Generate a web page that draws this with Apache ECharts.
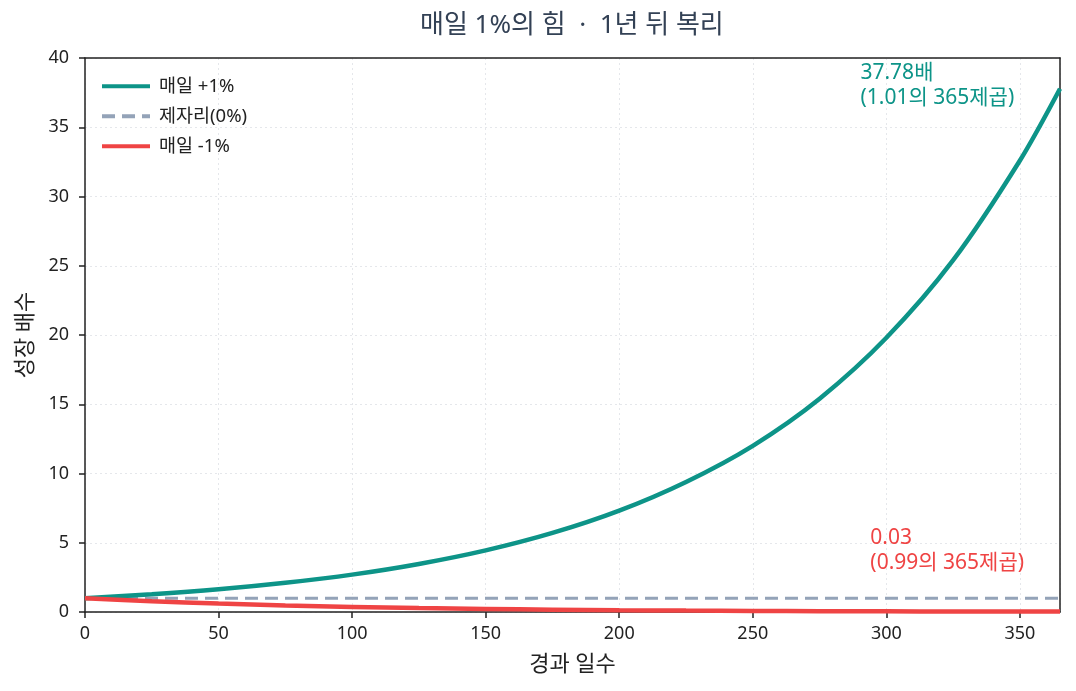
<!DOCTYPE html>
<html>
<head>
<meta charset="utf-8">
<script src="https://cdn.jsdelivr.net/npm/echarts@6/dist/echarts.min.js"></script>
<style>
  html, body { margin: 0; padding: 0; background: #fff; }
  #chart { width: 1076px; height: 691px; }
</style>
</head>
<body>
<div id="chart"></div>
<script>
// values
const days = [0, 25, 50, 75, 100, 125, 150, 175, 200, 225, 250, 275, 300, 325, 350, 365];
const upValues = [1, 1.28, 1.64, 2.11, 2.70, 3.47, 4.45, 5.71, 7.32, 9.39, 12.0, 15.4, 19.8, 25.4, 32.6, 37.78];
const downValues = [1, 0.78, 0.61, 0.47, 0.37, 0.28, 0.22, 0.17, 0.13, 0.10, 0.08, 0.06, 0.05, 0.04, 0.03, 0.03];
const flatDays = [0, 365];
const flatValues = [1, 1];
const seriesNames = ['매일 +1%', '제자리(0%)', '매일 -1%'];
const upNote = ['37.78배', '(1.01의 365제곱)'];
const downNote = ['0.03', '(0.99의 365제곱)'];

const FONT = '"Noto Sans", "Noto Sans CJK KR", sans-serif';
const TEAL = '#0d9488';
const GRAY = '#94a3b8';
const RED = '#ef4444';
const INK = '#222';

function pairs(xs, ys) {
    return xs.map((x, i) => [x, ys[i]]);
}

// plain axis used only to draw the top / right frame edges
function frameAxis(pos) {
    return {
        type: 'value', position: pos, min: 0, max: 1,
        axisLine: { show: true, onZero: false, lineStyle: { color: INK, width: 1.5 } },
        axisTick: { show: false }, axisLabel: { show: false }, splitLine: { show: false }
    };
}

const chart = echarts.init(document.getElementById('chart'));

const option = {
    animation: false,
    textStyle: { fontFamily: FONT },
    title: {
        text: '매일 1%의 힘  ·  1년 뒤 복리',
        // sits centred over the plot area, not the page
        left: 415,
        top: 8,
        textStyle: { fontFamily: FONT, fontSize: 26, fontWeight: 'normal', color: '#334155' }
    },
    grid: {
        left: 85, right: 16, top: 58, bottom: 79,
        containLabel: false,
        outerBoundsMode: 'none'
    },
    legend: {
        left: 100, top: 77,
        padding: 0,
        orient: 'vertical',
        itemWidth: 48, itemHeight: 20, itemGap: 11.5,
        itemStyle: { opacity: 0 },
        lineStyle: { width: 4 },
        textStyle: { fontFamily: FONT, fontSize: 18.5, color: INK, padding: [0, 0, 0, 4] },
        data: seriesNames
    },
    xAxis: [
        {
            type: 'value',
            min: 0, max: 365, interval: 50,
            name: '경과 일수',
            nameLocation: 'middle',
            nameGap: 42,
            nameTextStyle: { fontFamily: FONT, fontSize: 22, color: INK },
            axisLine: { show: true, onZero: false, lineStyle: { color: INK, width: 1.5 } },
            axisTick: { show: true, length: 6, lineStyle: { color: INK, width: 1.5 } },
            axisLabel: { showMaxLabel: false, fontSize: 18, color: INK, margin: 13, fontFamily: FONT },
            splitLine: { show: true, lineStyle: { color: '#e5e7eb', type: [2, 3], width: 1 } }
        },
        frameAxis('top')
    ],
    yAxis: [
        {
            type: 'value',
            min: 0, max: 40, interval: 5,
            name: '성장 배수',
            nameLocation: 'middle',
            nameGap: 48,
            nameTextStyle: { fontFamily: FONT, fontSize: 22, color: INK },
            axisLine: { show: true, onZero: false, lineStyle: { color: INK, width: 1.5 } },
            axisTick: { show: true, length: 6, lineStyle: { color: INK, width: 1.5 } },
            axisLabel: { fontSize: 18, color: INK, margin: 16, fontFamily: FONT },
            splitLine: { show: true, lineStyle: { color: '#e5e7eb', type: [2, 3], width: 1 } }
        },
        frameAxis('right')
    ],
    series: [
        {
            name: seriesNames[0], type: 'line', data: pairs(days, upValues),
            smooth: 0.3, symbol: 'none',
            lineStyle: { color: TEAL, width: 4.5 }, itemStyle: { color: TEAL }, z: 3
        },
        {
            name: seriesNames[1], type: 'line', data: pairs(flatDays, flatValues),
            symbol: 'none',
            lineStyle: { color: GRAY, width: 3, type: [13, 7] }, itemStyle: { color: GRAY }, z: 2
        },
        {
            name: seriesNames[2], type: 'line', data: pairs(days, downValues),
            smooth: 0.3, symbol: 'none',
            lineStyle: { color: RED, width: 4.5 }, itemStyle: { color: RED }, z: 4
        }
    ]
};
chart.setOption(option);

// annotations placed through the axis scales
const upPos = chart.convertToPixel({ xAxisIndex: 0, yAxisIndex: 0 }, [290.3, 36.2]);
const downPos = chart.convertToPixel({ xAxisIndex: 0, yAxisIndex: 0 }, [294, 2.65]);
chart.setOption({
    graphic: [
        {
            type: 'text', x: upPos[0], y: upPos[1], z: 10,
            style: {
                text: upNote.join('\n'), fill: TEAL, font: '21px ' + FONT,
                lineHeight: 25, align: 'left', verticalAlign: 'bottom'
            }
        },
        {
            type: 'text', x: downPos[0], y: downPos[1], z: 10,
            style: {
                text: downNote.join('\n'), fill: RED, font: '21px ' + FONT,
                lineHeight: 25, align: 'left', verticalAlign: 'bottom'
            }
        }
    ]
});
</script>
</body>
</html>
